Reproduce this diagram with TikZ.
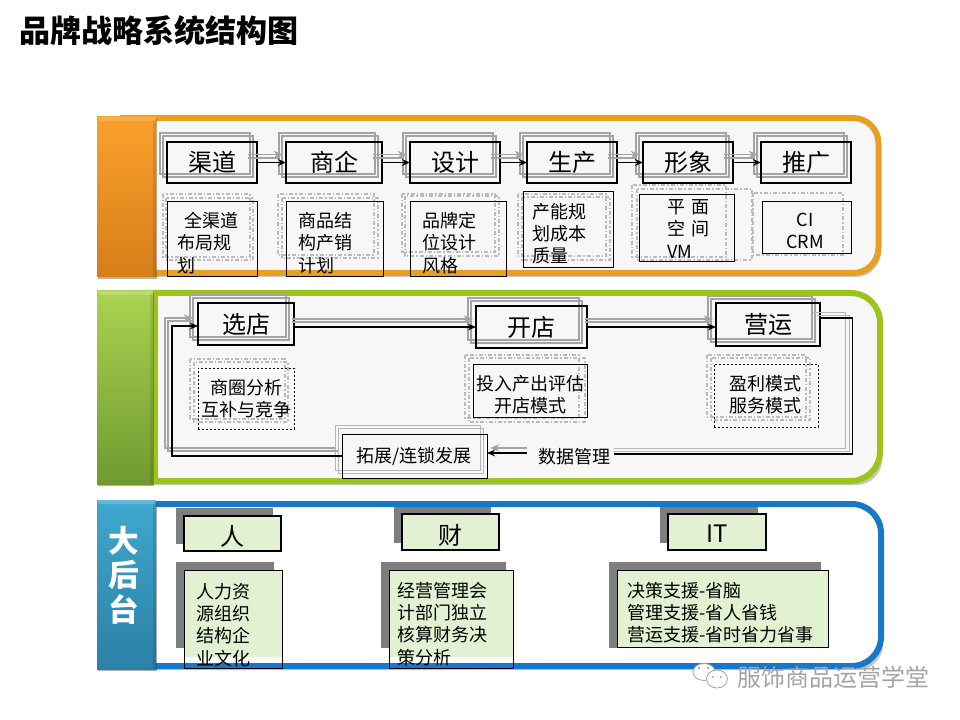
\documentclass[tikz,border=0pt]{standalone}
\usepackage{fontspec}
\setmainfont{Noto Sans CJK SC}
\usetikzlibrary{arrows.meta,calc}
\definecolor{orangeline}{HTML}{E8A020}
\definecolor{greenline}{HTML}{9CC41A}
\definecolor{blueline}{HTML}{1878C8}
\definecolor{panelbg}{HTML}{F7F7F7}
\definecolor{palegreen}{HTML}{E3F1D3}
\definecolor{shadegray}{HTML}{A4A4A4}
\definecolor{darkshade}{HTML}{7E7E7E}
\tikzset{
  x=0.75pt,y=-0.75pt,
  panelstroke/.style={line width=4.5pt,rounded corners=19pt},
  softshadow/.style={fill=black,opacity=.22,rounded corners=19pt},
  headbox/.style={draw=black,line width=1.9pt,inner sep=0,outer sep=0,font=\fontsize{18}{22}\selectfont},
  plainbox/.style={draw=black,line width=.75pt,inner sep=0,outer sep=0},
  dotbox/.style={draw=black,line width=.7pt,dash pattern=on 1.8pt off 1.2pt,inner sep=0,outer sep=0},
  greenhead/.style={headbox,fill=palegreen},
  ghost/.style={draw=shadegray,line width=1.5pt},
  ghostdash/.style={draw=shadegray!75,line width=.9pt,dash pattern=on 3pt off 1.5pt on 1pt off 1.5pt},
  ghostline/.style={draw=shadegray,line width=1.2pt,-{Stealth[length=7pt,width=5.5pt]}},
  ghostplain/.style={draw=shadegray,line width=1pt},
  ghostthin/.style={draw=shadegray!80,line width=.7pt},
  flow/.style={draw=black,line width=1.3pt,-{Stealth[length=6pt,width=5pt]}},
  flowthin/.style={draw=black,line width=.8pt},
  body/.style={inner sep=0,outer sep=0,font=\fontsize{13.5}{16.6}\selectfont,align=left,anchor=west},
  bodyc/.style={body,align=center,anchor=center},
}
% \pbox[style]{name}{x1}{y1}{x2}{y2}{text}
\newcommand{\pbox}[7][plainbox]{\node[#1,minimum width={(#5-#3)*0.75pt},minimum height={(#6-#4)*0.75pt}] (#2) at ({(#3+#5)/2},{(#4+#6)/2}) {#7};}
% \gbox{name}{x1}{y1}{x2}{y2}{text}{dx}{dy}: heavy box with two grey offset copies behind it
\newcommand{\gbox}[8]{%
  \draw[ghost] ({#2-#7},{#3-#8}) rectangle ({#4-#7},{#5-#8});
  \draw[ghost] ({#2-#7+3},{#3-#8+3}) rectangle ({#4-#7+3},{#5-#8+3});
  \pbox[headbox]{#1}{#2}{#3}{#4}{#5}{#6}}
\newcommand{\ghostarrow}[2]{%
  \draw[ghostline] ([shift={(-9,-8)}]#1.east) -- ([shift={(-3,-8)}]#2.west);
  \draw[ghostplain] ([shift={(-9,-4.5)}]#1.east) -- ([shift={(-6,-4.5)}]#2.west);}
\begin{document}
\begin{tikzpicture}
\useasboundingbox (0,0) rectangle (960,720);
\fill[white] (0,0) rectangle (960,720);
% title
\node[inner sep=0,anchor=west,font=\bfseries\fontsize{23.3}{27}\selectfont] (title) at (19,31) {品牌战略系统结构图};
% panel shadows and fills
\fill[softshadow] (120,121) -- (881,121) -- (881,277) -- (120,277) -- cycle;
\fill[softshadow] (120,296) -- (882,296) -- (882,485) -- (120,485) -- cycle;
\fill[softshadow] (120,504) -- (883,504) -- (883,670) -- (120,670) -- cycle;
\fill[panelbg,rounded corners=19pt] (120,118) -- (878.5,118) -- (878.5,273) -- (120,273) -- cycle;
\fill[panelbg,rounded corners=22pt] (120,293) -- (880,293) -- (880,481) -- (120,481) -- cycle;
\fill[white,rounded corners=22pt] (120,504) -- (881,504) -- (881,666) -- (120,666) -- cycle;
% dashed ghosts row 1
\draw[ghostdash] (163,194) rectangle (250,257);
\draw[ghostdash] (166,198) rectangle (253,260);
\draw[ghostdash] (278,194) rectangle (374,255);
\draw[ghostdash] (282,198) rectangle (378,258);
\draw[ghostdash] (402,194) rectangle (495,252);
\draw[ghostdash] (405,196) rectangle (499,256);
\draw[ghostdash] (518,194) rectangle (606,256);
\draw[ghostdash] (522,197) rectangle (610,260);
\draw[ghostdash] (632,185) rectangle (726,257);
\draw[ghostdash] (637,189) rectangle (752,260);
\draw[ghostdash] (753,193) rectangle (843,255);
% dashed ghosts row 2
\draw[ghostdash] (190,359) rectangle (285,419);
\draw[ghostdash] (194,362) rectangle (288,422);
\draw[ghostdash] (465,355) rectangle (579,418);
\draw[ghostdash] (469,358) rectangle (585,422);
\draw[ghostdash] (707,355) rectangle (806,417);
\draw[ghostdash] (711,358) rectangle (810,420);
% row 3 shadows and fills
\fill[darkshade] (176,508) rectangle (273,544);
\fill[darkshade] (394,507) rectangle (491,543);
\fill[darkshade] (660,507) rectangle (758,543);
\fill[darkshade] (176,562) rectangle (274,648);
\fill[darkshade] (381,562) rectangle (506,648);
\fill[darkshade] (609,562) rectangle (821,648);
\fill[palegreen] (184,570) rectangle (282,657);
\fill[palegreen] (389,570) rectangle (513,657);
% panel strokes
\draw[panelstroke,orangeline] (120,118) -- (878.5,118) -- (878.5,273) -- (120,273);
\draw[panelstroke,greenline,rounded corners=22pt] (120,293) -- (880,293) -- (880,481) -- (120,481);
\draw[greenline,line width=4.5pt] (155,290) -- (155,484);
\draw[panelstroke,blueline,rounded corners=22pt] (120,504) -- (881,504) -- (881,666) -- (120,666);
% left bars
\fill[black,opacity=.3] (98,119) rectangle (157,279);
\fill[black,opacity=.3] (98,293) rectangle (154,486);
\fill[black,opacity=.3] (98,502) rectangle (157,671);
\shade[top color=orange!70!yellow!90!white,bottom color=orange!85!black,shading angle=0] (97,117) rectangle (156,277);
\definecolor{baro1}{HTML}{F9A02C}\definecolor{baro2}{HTML}{D67E18}
\shade[top color=baro1,bottom color=baro2] (97,117) rectangle (156,277);
\fill[white,opacity=.15] (97,117) -- (156,117) -- (153,121) -- (100,121) -- cycle;
\fill[black,opacity=.1] (153,121) rectangle (156,277);
\definecolor{barg1}{HTML}{AAD350}\definecolor{barg2}{HTML}{709A30}
\shade[top color=barg1,bottom color=barg2] (97,291) rectangle (153,484);
\fill[white,opacity=.2] (97,291) -- (153,291) -- (150,295) -- (100,295) -- cycle;
\fill[black,opacity=.1] (150,295) rectangle (153,484);
\definecolor{barb1}{HTML}{3FA8CE}\definecolor{barb2}{HTML}{2B80A6}
\shade[top color=barb1,bottom color=barb2] (97,500) rectangle (156,669);
\fill[white,opacity=.2] (97,500) -- (156,500) -- (153,504) -- (100,504) -- cycle;
\fill[black,opacity=.1] (153,504) rectangle (156,669);
\node[inner sep=0,align=center,text=white,font=\bfseries\fontsize{23}{26}\selectfont] (backend) at (124,575) {大\\后\\台};
% head boxes row 1
\gbox{qd}{167}{142}{257}{183}{渠道}{7}{9}
\gbox{sq}{286}{142}{382}{183}{商企}{7}{9}
\gbox{sj1}{410}{142}{500}{183}{设计}{7}{9}
\gbox{sc}{527}{142}{617}{183}{生产}{7}{9}
\gbox{xx}{643}{142}{733}{183}{形象}{7}{9}
\gbox{tg}{761}{142}{851}{183}{推广}{7}{9}
\ghostarrow{qd}{sq}\ghostarrow{sq}{sj1}\ghostarrow{sj1}{sc}\ghostarrow{sc}{xx}\ghostarrow{xx}{tg}
\draw[flow] (qd) -- (sq);
\draw[flow] (sq) -- (sj1);
\draw[flow] (sj1) -- (sc);
\draw[flow] (sc) -- (xx);
\draw[flow] (xx) -- (tg);
% sub boxes row 1
\pbox{s1}{167}{202}{257}{277}{}
\pbox{s2}{286}{202}{383}{277}{}
\pbox{s3}{410}{202}{506}{277}{}
\pbox{s4}{523}{192}{613}{268}{}
\pbox{s5}{639}{195}{734}{262}{}
\pbox{s6}{762}{202}{851}{254}{}
\node[body] (t1) at (177,243) {\hspace*{5.5pt}全渠道\\布局规\\划};
\node[body] (t2) at (298,243) {商品结\\构产销\\计划};
\node[body] (t3) at (422,243) {品牌定\\位设计\\风格};
\node[body] (t4) at (532,234) {产能规\\划成本\\质量};
\node[body] (t5) at (667,229) {平\hspace{5pt}面\\空\hspace{5pt}间\\VM};
\node[bodyc] (t6) at (805,231) {CI\\CRM};
% row 2
\gbox{xd}{198}{303}{294}{345}{选店}{8}{8}
\gbox{kd}{476}{306}{587}{348}{开店}{8}{8}
\gbox{yy}{716}{303}{820}{346}{营运}{8}{7}
\pbox[dotbox]{m1}{198}{368}{294}{429}{}
\pbox{m2}{473}{364}{587}{417}{}
\pbox[dotbox]{m3}{714}{364}{818}{427}{}
\node[bodyc] (u1) at (246,398.5) {商圈分析\\互补与竞争};
\node[bodyc] (u2) at (530,395) {投入产出评估\\开店模式};
\node[bodyc] (u3) at (765,395) {盈利模式\\服务模式};
\draw[ghostthin] (335,425) rectangle (480,470);
\draw[ghostthin] (338,428) rectangle (483,473);
\pbox{tz}{342}{434}{487}{478}{}
\node[bodyc] (u4) at (414,456) {拓展/连锁发展};
\node[bodyc] (dm) at (574,456.5) {数据管理};
\coordinate (c1) at (852.5,318);
\coordinate (c2) at (852.5,454);
\coordinate (c3) at (527,453);
\coordinate (c4) at (172,456);
\coordinate (c5) at (172,326);
% ghost connectors row 2
\draw[ghostline] ([shift={(-2,-8)}]xd.east|-kd.west) -- ([shift={(-3,-8)}]kd.west);
\draw[ghostplain] ([shift={(-2,-5)}]xd.east|-kd.west) -- ([shift={(-6,-5)}]kd.west);
\draw[ghostline] ([shift={(-2,-8)}]kd.east) -- ([shift={(-3,-8)}]yy.west|-kd.east);
\draw[ghostplain] ([shift={(-2,-5)}]kd.east) -- ([shift={(-6,-5)}]yy.west|-kd.east);
\draw[ghostthin] ([shift={(-7,-6)}]yy.east|-c1) -- ([shift={(-7,-6)}]c1) -- ([shift={(-7,-6)}]c2) -- ([shift={(4,-6)}]dm.east|-c2);
\draw[ghostthin] ([shift={(-3.5,-3)}]yy.east|-c1) -- ([shift={(-3.5,-3)}]c1) -- ([shift={(-3.5,-3)}]c2) -- ([shift={(4,-3)}]dm.east|-c2);
\draw[ghostline] ([shift={(0,-5)}]c3) -- ([shift={(3,-5)}]tz.east|-c3);
\draw[ghostline] ([shift={(-7,-8)}]tz.west) -- ([shift={(-7,-8)}]c4) -- ([shift={(-7,-8)}]c5) -- ([shift={(-5,-8)}]xd.west|-c5);
\draw[ghostplain] ([shift={(-4,-5)}]tz.west) -- ([shift={(-4,-5)}]c4) -- ([shift={(-4,-5)}]c5) -- ([shift={(-6,-5)}]xd.west|-c5);
% connectors row 2
\draw[flow] (xd.east|-kd.west) -- (kd.west);
\draw[flow] (kd.east) -- (yy.west|-kd.east);
\draw[flowthin] (yy.east|-c1) -- (c1) -- (c2) -- ([xshift=4*0.75pt]dm.east|-c2);
\draw[flow] (c3) -- (tz.east|-c3);
\draw[flow] (tz.west) -- (c4) -- (c5) -- (xd.west|-c5);
% row 3
\pbox[greenhead]{ren}{184}{516}{281}{551}{\raisebox{-2.5pt}[\height][\depth]{人}}
\pbox[greenhead]{cai}{402}{514}{499}{550}{\raisebox{-2.5pt}[\height][\depth]{财}}
\pbox[greenhead]{it}{668}{514}{766}{550}{\raisebox{-1.5pt}[\height][\depth]{IT}}
\pbox{r1}{184}{570}{282}{668}{}
\pbox{r2}{389}{570}{513}{668}{}
\node[plainbox,fill=palegreen,minimum width={211*0.75pt},minimum height={77*0.75pt}] (r3) at (722.5,608.5) {};
\node[body] (v1) at (196,625) {人力资\\源组织\\结构企\\业文化};
\node[body] (v2) at (397,624) {经营管理会\\计部门独立\\核算财务决\\策分析};
\node[body] (v3) at (627,613) {决策支援-省脑\\管理支援-省人省钱\\营运支援-省时省力省事};
% watermark
\fill[white,draw=shadegray,line width=.6pt] (704,672) ellipse (11 and 8.5);
\fill[white,draw=shadegray,line width=.6pt] (717,679) ellipse (10.5 and 9);
\fill[shadegray] (699,668) circle (1.4) (708,668) circle (1.4) (713,677) circle (1.1) (721,677) circle (1.1);
\node[inner sep=0,anchor=west,text=shadegray,font=\fontsize{18}{22}\selectfont] (wm) at (737,677) {服饰商品运营学堂};
\end{tikzpicture}
\end{document}
